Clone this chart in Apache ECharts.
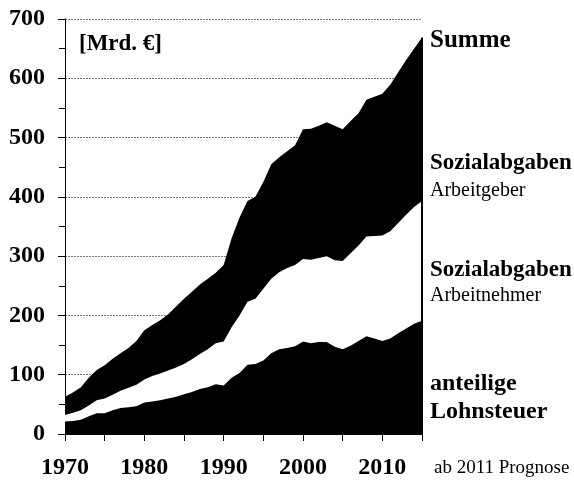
<!DOCTYPE html>
<html>
<head>
<meta charset="utf-8">
<script src="https://cdn.jsdelivr.net/npm/echarts@6/dist/echarts.min.js"></script>
<style>
  html, body { margin: 0; padding: 0; background: #fff; }
  #chart { width: 574px; height: 481px; }
</style>
</head>
<body>
<div id="chart"></div>
<script>
// Jahre 1970 - 2015 (ab 2011 Prognose)
const years = [1970, 1971, 1972, 1973, 1974, 1975, 1976, 1977, 1978, 1979,
    1980, 1981, 1982, 1983, 1984, 1985, 1986, 1987, 1988, 1989,
    1990, 1991, 1992, 1993, 1994, 1995, 1996, 1997, 1998, 1999,
    2000, 2001, 2002, 2003, 2004, 2005, 2006, 2007, 2008, 2009,
    2010, 2011, 2012, 2013, 2014, 2015]

// obere Kante: Summe
const summe = [63, 70, 79, 95, 108, 116, 127, 136, 145, 157,
    175, 184, 192, 202, 215, 228, 240, 252, 262, 272,
    285, 330, 365, 393, 400, 425, 455, 467, 477, 487,
    514, 515, 520, 526, 520, 514, 528, 541, 564, 569,
    574, 589, 610, 631, 650, 669]

// Lohnsteuer + Sozialabgaben Arbeitnehmer (obere Kante der weissen Flaeche)
const lohnPlusAN = [32, 36, 40, 48, 57, 60, 66, 73, 78, 83,
    92, 98, 102, 107, 112, 118, 126, 135, 143, 153,
    156, 180, 200, 223, 228, 245, 262, 273, 280, 285,
    295, 294, 297, 300, 293, 292, 305, 318, 333, 334,
    335, 342, 356, 370, 383, 393]

// anteilige Lohnsteuer
const lohnsteuer = [21, 22, 24, 30, 35, 35, 40, 44, 45, 47,
    53, 55, 57, 60, 63, 67, 71, 76, 79, 84,
    82, 95, 103, 117, 118, 124, 136, 143, 145, 148,
    156, 153, 155, 155, 147, 143, 149, 157, 165, 161,
    157, 161, 170, 178, 186, 191]

const serif = 'Liberation Serif'
const pairs = (vals) => years.map((y, i) => [y, vals[i]])
const last = years.length - 1

const areaSeries = (name, vals, color, extra) => Object.assign({
    name: name,
    type: 'line',
    data: pairs(vals),
    showSymbol: false,
    symbol: 'none',
    lineStyle: { width: 0 },
    areaStyle: { color: color, opacity: 1 },
    silent: true
}, extra || {})

const label = (text, x, y, size, bold) => ({
    type: 'text',
    left: x,
    top: y - size / 2 - 1,
    style: {
        text: text,
        fill: '#000',
        font: (bold ? 'bold ' : '') + size + 'px "' + serif + '"'
    }
})

const chart = echarts.init(document.getElementById('chart'))
chart.setOption({
    animation: false,
    backgroundColor: '#fff',
    grid: { left: 65, right: 152, top: 19, bottom: 47 },
    xAxis: {
        type: 'value',
        min: 1970,
        max: 2015,
        interval: 5,
        axisLine: { show: true, lineStyle: { color: '#000', width: 1 } },
        axisTick: { show: true, length: 7, lineStyle: { color: '#000' } },
        splitLine: { show: false },
        axisLabel: {
            margin: 22,
            color: '#000',
            fontFamily: serif,
            fontWeight: 'bold',
            fontSize: 24,
            formatter: (v) => (v % 10 === 0 && v < 2015) ? String(v) : ''
        }
    },
    yAxis: {
        type: 'value',
        min: 0,
        max: 700,
        interval: 100,
        axisLine: { show: true, lineStyle: { color: '#000', width: 1 } },
        axisTick: { show: true, length: 7, lineStyle: { color: '#000' } },
        minorTick: { show: true, splitNumber: 2, length: 6, lineStyle: { color: '#000' } },
        splitLine: { show: true, lineStyle: { color: '#777', type: [2, 1], width: 1 } },
        axisLabel: {
            margin: 20,
            color: '#000',
            fontFamily: serif,
            fontWeight: 'bold',
            fontSize: 24
        }
    },
    series: [
        areaSeries('Summe', summe, '#000', {
            markLine: {
                silent: true,
                symbol: 'none',
                label: { show: false },
                lineStyle: { color: '#000', width: 2, type: 'solid' },
                data: [[
                    { coord: [years[last], 0] },
                    { coord: [years[last], summe[last]] }
                ]]
            }
        }),
        areaSeries('Arbeitnehmer', lohnPlusAN, '#fff'),
        areaSeries('Lohnsteuer', lohnsteuer, '#000')
    ],
    graphic: [
        label('[Mrd. €]', 79, 45, 23, true),
        label('Summe', 430, 42, 25, true),
        label('Sozialabgaben', 430, 164, 23, true),
        label('Arbeitgeber', 430, 192, 20, false),
        label('Sozialabgaben', 430, 271, 23, true),
        label('Arbeitnehmer', 430, 297, 20, false),
        label('anteilige', 430, 385, 24, true),
        label('Lohnsteuer', 430, 413, 24, true),
        label('ab 2011 Prognose', 434, 469, 19, false)
    ]
})
</script>
</body>
</html>
